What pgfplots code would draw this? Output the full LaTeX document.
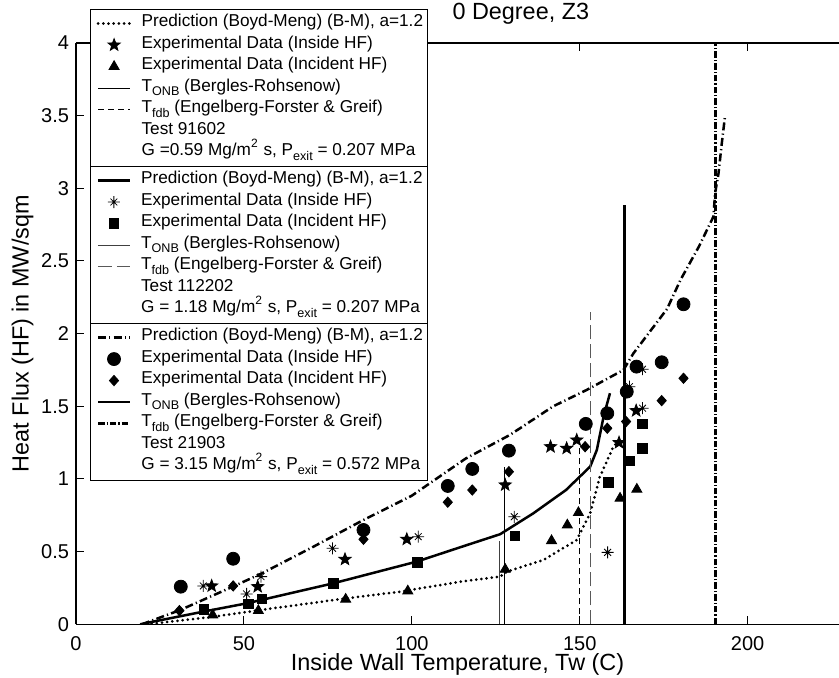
\documentclass[border=0pt]{standalone}
\usepackage{fontspec}
\setmainfont{Liberation Sans}
\usepackage{pgfplots}
\pgfplotsset{compat=1.18}

\newcommand\sub[1]{\raisebox{-2.3pt}{\fontsize{6.3}{7}\selectfont #1}}

% filled five-pointed star
\pgfdeclareplotmark{fstar}{%
  \pgfpathmoveto{\pgfpointpolar{90}{\pgfplotmarksize}}%
  \pgfpathlineto{\pgfpointpolar{126}{0.42\pgfplotmarksize}}%
  \pgfpathlineto{\pgfpointpolar{162}{\pgfplotmarksize}}%
  \pgfpathlineto{\pgfpointpolar{198}{0.42\pgfplotmarksize}}%
  \pgfpathlineto{\pgfpointpolar{234}{\pgfplotmarksize}}%
  \pgfpathlineto{\pgfpointpolar{270}{0.42\pgfplotmarksize}}%
  \pgfpathlineto{\pgfpointpolar{306}{\pgfplotmarksize}}%
  \pgfpathlineto{\pgfpointpolar{342}{0.42\pgfplotmarksize}}%
  \pgfpathlineto{\pgfpointpolar{18}{\pgfplotmarksize}}%
  \pgfpathlineto{\pgfpointpolar{54}{0.42\pgfplotmarksize}}%
  \pgfpathclose
  \pgfusepathqfillstroke}
% plus + cross asterisk
\pgfdeclareplotmark{mast}{%
  \pgfpathmoveto{\pgfqpoint{-\pgfplotmarksize}{0pt}}\pgfpathlineto{\pgfqpoint{\pgfplotmarksize}{0pt}}%
  \pgfpathmoveto{\pgfqpoint{0pt}{-\pgfplotmarksize}}\pgfpathlineto{\pgfqpoint{0pt}{\pgfplotmarksize}}%
  \pgfpathmoveto{\pgfpointpolar{45}{0.8\pgfplotmarksize}}\pgfpathlineto{\pgfpointpolar{225}{0.8\pgfplotmarksize}}%
  \pgfpathmoveto{\pgfpointpolar{135}{0.8\pgfplotmarksize}}\pgfpathlineto{\pgfpointpolar{315}{0.8\pgfplotmarksize}}%
  \pgfusepathqstroke}
% diamond
\pgfdeclareplotmark{rdia}{%
  \pgfpathmoveto{\pgfqpoint{0pt}{1.12\pgfplotmarksize}}%
  \pgfpathlineto{\pgfqpoint{\pgfplotmarksize}{0pt}}%
  \pgfpathlineto{\pgfqpoint{0pt}{-1.12\pgfplotmarksize}}%
  \pgfpathlineto{\pgfqpoint{-\pgfplotmarksize}{0pt}}%
  \pgfpathclose
  \pgfusepathqfillstroke}

\pgfplotsset{
  base/.style={
    width=381.5pt, height=290.65pt, scale only axis,
    xmin=0, xmax=227.2, ymin=0, ymax=4,
    legend image code/.code={\draw[mark repeat=2,mark phase=2,##1] plot coordinates {(0pt,0pt) (8pt,0pt) (16pt,0pt)};},
    legend cell align=left,
    legend style={anchor=north west, draw=black, line width=0.6pt, fill=white,
      font=\fontsize{8.6}{10}\selectfont, inner xsep=3pt, inner ysep=1.6pt,
      row sep=0pt, column sep=5pt,
      nodes={inner sep=0pt, text height=6.9pt, text depth=3.85pt}},
  },
  mk/.style={only marks, mark options={solid, fill=black, line width=0.4pt}},
  pdot/.style={black, line width=1.5pt, line cap=round, dash pattern=on 0pt off 2.6pt},
  psolid/.style={black, line width=1.25pt},
  pdd/.style={black, line width=1.25pt, dash pattern=on 4pt off 1.6pt on 0.6pt off 1.6pt},
}

\begin{document}
\begin{tikzpicture}
% ---------------- Test 91602 ----------------
\begin{axis}[base, name=ax,
  axis x line*=box, axis y line*=left,
  axis line style={line width=0.6pt},
  tick align=inside, major tick length=4pt,
  tick style={line width=0.5pt, black},
  xtick={0,50,100,150,200}, ytick={0,0.5,...,4},
  ticklabel style={font=\fontsize{10}{12}\selectfont},
  /pgf/number format/assume math mode=true,
  xticklabel style={yshift=-2.7pt},
  xlabel={Inside Wall Temperature, Tw (C)},
  ylabel={Heat Flux (HF) in MW/sqm},
  label style={font=\fontsize{11.7}{14}\selectfont},
  xlabel style={at={(axis description cs:0.5,0)}, anchor=base, yshift=-23pt},
  ylabel style={at={(axis description cs:-0.0701,0.5)}, anchor=center, rotate=0},
  title={0 Degree, Z3},
  title style={at={(axis description cs:0.583,1)}, anchor=base, yshift=5.5pt, font=\fontsize{11.7}{14}\selectfont},
  legend style={at={(0.01835,1.0585)}},
]
\addplot[pdot] coordinates {
(21,0) (40.9,0.052) (54.8,0.098) (80.6,0.179) (96.5,0.224) (114.4,0.293)
(126.3,0.328) (128.3,0.362) (139.2,0.443) (149.1,0.58) (153.1,0.764)
(156,1.016) (160,1.222) (162,1.27)};
\addlegendentry{\makebox[140pt][l]{Prediction (Boyd-Meng) (B-M), a=1.2}}
\addplot[mk, mark=fstar, mark size=3.2pt] coordinates {
(40.4,0.264) (54.1,0.259) (80.1,0.447) (98.5,0.585) (127.8,0.959)
(141.3,1.222) (146.1,1.211) (149.1,1.268) (161.7,1.25) (166.8,1.47)};
\addlegendentry{Experimental Data (Inside HF)}
\addplot[mk, mark=triangle*, mark size=2.9pt] coordinates {
(40.7,0.064) (54.3,0.094) (80.3,0.172) (98.8,0.229) (127.8,0.378)
(141.6,0.575) (146.3,0.683) (149.6,0.768) (162.0,0.867) (167,0.929)};
\addlegendentry{Experimental Data (Incident HF)}
\addplot[black, line width=0.5pt] coordinates {(127.5,0) (127.5,1.085)};
\addlegendentry{T\sub{ONB} (Bergles-Rohsenow)}
\addplot[black, line width=0.5pt, dash pattern=on 3pt off 2pt] coordinates {(149.8,0) (149.8,1.257)};
\addlegendentry{T\sub{fdb} (Engelberg-Forster \& Greif)}
\addlegendimage{empty legend}
\addlegendentry{Test 91602}
\addlegendimage{empty legend}
\addlegendentry{G =0.59 Mg/m\textsuperscript{2} s, P\sub{exit} = 0.207 MPa}
\end{axis}
% ---------------- Test 112202 ----------------
\begin{axis}[base, hide axis, legend style={at={(0.01835,0.7884)}}]
\addplot[psolid] coordinates {
(19.1,0) (37.9,0.087) (50.8,0.144) (76.6,0.282) (101.4,0.431) (114.4,0.53)
(126.3,0.62) (136.2,0.764) (145.9,0.924) (153.1,1.085) (155.1,1.2)
(157.1,1.43) (159,1.59)};
\addlegendentry{\makebox[140pt][l]{Prediction (Boyd-Meng) (B-M), a=1.2}}
\addplot[mk, mark=mast, mark size=3pt] coordinates {
(37.9,0.264) (50.8,0.209) (55.1,0.328) (76.4,0.523) (101.9,0.603)
(130.5,0.74) (158.3,0.495) (164.8,1.635) (168.7,1.755) (168.7,1.487)};
\addlegendentry{Experimental Data (Inside HF)}
\addplot[mk, mark=square*, mark size=2.35pt] coordinates {
(38.1,0.103) (51.3,0.14) (55.3,0.174) (76.6,0.282) (101.7,0.427)
(130.7,0.608) (158.5,0.977) (164.8,1.126) (168.6,1.211) (168.6,1.379)};
\addlegendentry{Experimental Data (Incident HF)}
\addplot[black!75, line width=0.5pt] coordinates {(126,0) (126,0.573)};
\addlegendentry{T\sub{ONB} (Bergles-Rohsenow)}
\addplot[black!65, line width=0.5pt, dash pattern=on 7pt off 2.5pt] coordinates {(153.3,0) (153.3,2.151)};
\addlegendentry{T\sub{fdb} (Engelberg-Forster \& Greif)}
\addlegendimage{empty legend}
\addlegendentry{Test 112202}
\addlegendimage{empty legend}
\addlegendentry{G = 1.18 Mg/m\textsuperscript{2} s, P\sub{exit} = 0.207 MPa}
\end{axis}
% ---------------- Test 21903 ----------------
\begin{axis}[base, hide axis, legend style={at={(0.01835,0.5183)}}]
\addplot[pdd] coordinates {
(19.6,0) (31,0.098) (46.8,0.26) (55.3,0.35) (70.7,0.534) (85.6,0.718)
(100,0.885) (116,1.14) (129.2,1.303) (142.1,1.5) (152.1,1.613) (163,1.75)
(166,1.865) (176,2.17) (180,2.37) (185.5,2.6) (189.8,2.805) (190.3,2.966)
(191.3,3.10) (192.3,3.31) (193.3,3.505)};
\addlegendentry{\makebox[140pt][l]{Prediction (Boyd-Meng) (B-M), a=1.2}}
\addplot[mk, mark=*, mark size=3.25pt] coordinates {
(31.2,0.259) (46.8,0.451) (85.6,0.649) (110.7,0.952) (118,1.069)
(128.9,1.195) (151.8,1.379) (158.2,1.452) (164,1.601) (166.9,1.773)
(174.4,1.803) (180.9,2.202)};
\addlegendentry{Experimental Data (Inside HF)}
\addplot[mk, mark=rdia, mark size=2.3pt] coordinates {
(30.8,0.094) (46.8,0.264) (85.6,0.585) (110.7,0.84) (118,0.924)
(128.9,1.05) (151.6,1.222) (158.2,1.349) (163.8,1.395) (174.4,1.539)
(180.9,1.693)};
\addlegendentry{Experimental Data (Incident HF)}
\addplot[black, line width=1.4pt] coordinates {(163.3,0) (163.3,2.886)};
\addlegendentry{T\sub{ONB} (Bergles-Rohsenow)}
\addplot[black, line width=1.4pt, dash pattern=on 3.3pt off 1pt on 0.6pt off 1pt] coordinates {(190.5,0) (190.5,4)};
\addlegendentry{T\sub{fdb} (Engelberg-Forster \& Greif)}
\addlegendimage{empty legend}
\addlegendentry{Test 21903}
\addlegendimage{empty legend}
\addlegendentry{G = 3.15 Mg/m\textsuperscript{2} s, P\sub{exit} = 0.572 MPa}
\end{axis}
\pgfresetboundingbox
\path ([shift={(-38pt,-26.85pt)}]ax.south west) rectangle ++(419.5pt,339pt);
\end{tikzpicture}
\end{document}
